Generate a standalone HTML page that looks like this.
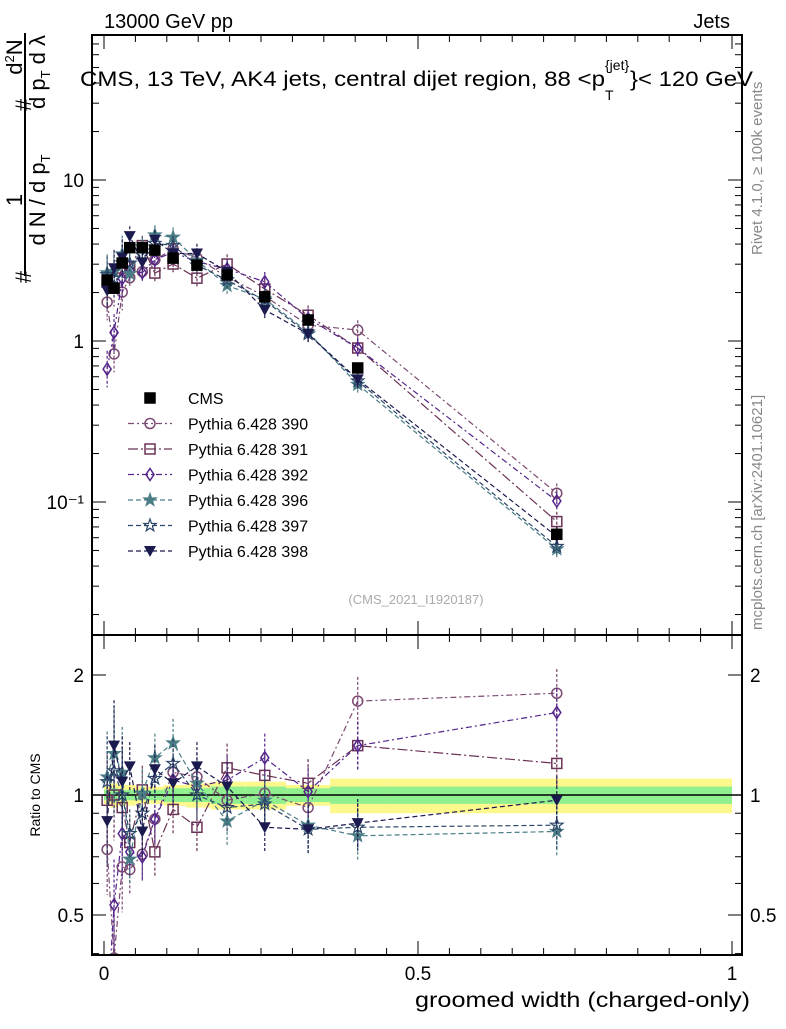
<!DOCTYPE html>
<html><head><meta charset="utf-8"><style>
body{margin:0;background:#fff;}
svg text{font-family:"Liberation Sans",sans-serif;}
</style></head><body>
<svg id="chart" width="786" height="1024" viewBox="0 0 786 1024" xmlns="http://www.w3.org/2000/svg">
<g id="bands"></g>
<g id="marks"></g>
<g id="axes"></g>
<text x="104" y="28" font-size="20">13000 GeV pp</text>
<text x="730" y="28" font-size="20" text-anchor="end">Jets</text>
<g>
<text x="80" y="86" font-size="21" textLength="525" lengthAdjust="spacingAndGlyphs">CMS, 13 TeV, AK4 jets, central dijet region, 88 &lt;p</text>
<text x="605" y="70" font-size="14">{jet}</text>
<text x="605" y="100" font-size="14">T</text>
<text x="630" y="86" font-size="21" textLength="123" lengthAdjust="spacingAndGlyphs">}&lt; 120 GeV</text>
</g>
<text x="416" y="604" font-size="13" fill="#aaa" text-anchor="middle">(CMS_2021_I1920187)</text>
<text x="0" y="0" font-size="15" fill="#888" transform="translate(762,255) rotate(-90)">Rivet 4.1.0, ≥ 100k events</text>
<text x="0" y="0" font-size="15" fill="#888" transform="translate(762,630) rotate(-90)">mcplots.cern.ch [arXiv:2401.10621]</text>
<g>
<rect x="24" y="33" width="2" height="243" fill="#000"/>
<text font-size="22" text-anchor="middle" transform="translate(22,57) rotate(-90)">d<tspan font-size="13" dy="-8">2</tspan><tspan dy="8">N</tspan></text>
<text font-size="22" text-anchor="middle" transform="translate(22,200) rotate(-90)">1</text>
<text font-size="22" text-anchor="middle" transform="translate(45,200) rotate(-90)">d N / d p<tspan font-size="13" dy="5">T</tspan></text>
<text font-size="22" text-anchor="middle" transform="translate(45,72) rotate(-90)">d p<tspan font-size="13" dy="5">T</tspan><tspan dy="-5">  d λ</tspan></text>
<text font-size="22" text-anchor="middle" transform="translate(31,105) rotate(-90)">#</text>
<text font-size="22" text-anchor="middle" transform="translate(31,277) rotate(-90)">#</text>
</g>
<text x="0" y="0" font-size="14" transform="translate(40,795) rotate(-90)" text-anchor="middle">Ratio to CMS</text>
<text x="750" y="1007" font-size="21" text-anchor="end" textLength="335" lengthAdjust="spacingAndGlyphs">groomed width (charged-only)</text>
<g id="legend"></g>
</svg>
<script>
const xs=[0.005,0.016,0.029,0.041,0.061,0.081,0.110,0.148,0.196,0.256,0.325,0.404,0.721];
const cms=[2.39,2.13,3.05,3.8,3.8,3.67,3.27,2.96,2.57,1.88,1.35,0.68,0.063];
const binEdges=[0,0.01,0.022,0.035,0.05,0.07,0.095,0.13,0.17,0.225,0.29,0.36,0.45,1.0];
const yellowHalf=[0.05,0.07,0.06,0.06,0.05,0.05,0.06,0.07,0.08,0.08,0.06,0.10,0.10];
const greenHalf=[0.03,0.04,0.03,0.03,0.03,0.03,0.04,0.04,0.05,0.05,0.04,0.05,0.05];
const r390=[0.73,0.39,0.66,0.65,0.71,0.87,1.14,1.11,0.97,1.01,0.93,1.72,1.80];
const r391=[0.97,1.0,0.93,0.76,1.03,0.72,0.92,0.83,1.17,1.12,1.07,1.33,1.20];
const r392=[0.28,0.53,0.80,0.72,0.70,0.87,1.09,1.05,1.09,1.24,1.02,1.33,1.61];
const r396=[1.11,1.27,1.14,0.69,1.01,1.24,1.35,1.07,0.86,0.97,0.84,0.79,0.81];
const r397=[1.08,1.15,1.0,0.8,0.9,1.1,1.2,1.0,0.93,0.95,0.82,0.83,0.84];
const r398=[0.86,1.33,1.08,1.18,0.81,1.16,1.07,1.18,1.05,0.83,0.82,0.85,0.97];
const series=[
 {name:'Pythia 6.428 390',r:r390,c:'#7b4a72',m:'circle',d:'6,3,2,3'},
 {name:'Pythia 6.428 391',r:r391,c:'#6a3356',m:'square',d:'10,3,2,3'},
 {name:'Pythia 6.428 392',r:r392,c:'#54248a',m:'diamond',d:'6,3,2,3'},
 {name:'Pythia 6.428 396',r:r396,c:'#4b7d86',m:'star',d:'5,3'},
 {name:'Pythia 6.428 397',r:r397,c:'#2b4668',m:'ostar',d:'5,3'},
 {name:'Pythia 6.428 398',r:r398,c:'#1b1a4e',m:'tri',d:'5,3'}];
const NS='http://www.w3.org/2000/svg';
const L=92,R=742,T=35,MB=635,RB=955;
const X=v=>104+v*628;
const Ym=v=>341-161*Math.log10(v);
const Yr=v=>795-398.6*Math.log10(v);
function mk(tag,at,parent){const e=document.createElementNS(NS,tag);for(const k in at)e.setAttribute(k,at[k]);parent.appendChild(e);return e;}
const bands=document.getElementById('bands'),marks=document.getElementById('marks'),axes=document.getElementById('axes'),leg=document.getElementById('legend');
const defs=mk('defs',{},marks);
const cp1=mk('clipPath',{id:'cm'},defs);mk('rect',{x:L,y:T,width:R-L,height:MB-T},cp1);
const cp2=mk('clipPath',{id:'cr'},defs);mk('rect',{x:L,y:MB,width:R-L,height:RB-MB},cp2);
for(let i=0;i<binEdges.length-1;i++){
 const x1=X(binEdges[i]),x2=X(binEdges[i+1]);
 const y=mk('rect',{x:x1,y:Yr(1+yellowHalf[i]),width:x2-x1,height:Yr(1-yellowHalf[i])-Yr(1+yellowHalf[i]),fill:'#fdf88c'},bands);
 
 
 const g=mk('rect',{x:x1,y:Yr(1+greenHalf[i]),width:x2-x1,height:Yr(1-greenHalf[i])-Yr(1+greenHalf[i]),fill:'#90f090'},bands);
 
 
}
mk('line',{x1:L,x2:R,y1:Yr(1),y2:Yr(1),stroke:'#000','stroke-width':1.5},bands);
function marker(type,x,y,c,parent){
 let e;const s=5;
 if(type==='circle')e=mk('circle',{cx:x,cy:y,r:s,fill:'none',stroke:c,'stroke-width':1.5},parent);
 else if(type==='square'||type==='cms')e=mk('rect',{x:x-s,y:y-s,width:2*s,height:2*s,fill:type==='cms'?'#000':'none',stroke:c,'stroke-width':1.5},parent);
 else if(type==='diamond')e=mk('polygon',{points:`${x},${y-6} ${x+4},${y} ${x},${y+6} ${x-4},${y}`,fill:'none',stroke:c,'stroke-width':1.5},parent);
 else if(type==='tri')e=mk('polygon',{points:`${x-6},${y-5} ${x+6},${y-5} ${x},${y+6}`,fill:c},parent);
 else{let p=[];for(let k=0;k<10;k++){const a=-Math.PI/2+k*Math.PI/5,rr=k%2?2.6:6.5;p.push((x+rr*Math.cos(a)).toFixed(1)+','+(y+rr*Math.sin(a)).toFixed(1));}
  e=mk('polygon',{points:p.join(' '),fill:type==='star'?c:'none',stroke:c,'stroke-width':1.2},parent);}
 return e;
}
series.forEach((s,si)=>{
 const gm=mk('g',{'clip-path':'url(#cm)'},marks);
 
 
 const gr=mk('g',{'clip-path':'url(#cr)'},marks);
 
 
 const pm=xs.map((x,i)=>X(x)+','+Ym(cms[i]*s.r[i])).join(' ');
 const pr=xs.map((x,i)=>X(x)+','+Yr(s.r[i])).join(' ');
 mk('polyline',{points:pm,fill:'none',stroke:s.c,'stroke-width':1.2,'stroke-dasharray':s.d},gm);
 mk('polyline',{points:pr,fill:'none',stroke:s.c,'stroke-width':1.2,'stroke-dasharray':s.d},gr);
 xs.forEach((x,i)=>{
  const v=cms[i]*s.r[i],e=0.15+(i<3?0.15:0);
  mk('line',{x1:X(x),x2:X(x),y1:Ym(v*(1+e)),y2:Ym(v/(1+e)),stroke:s.c,'stroke-width':1.2,'stroke-dasharray':'3,2'},gm);
  mk('line',{x1:X(x),x2:X(x),y1:Yr(s.r[i]*(1+e)),y2:Yr(s.r[i]/(1+e)),stroke:s.c,'stroke-width':1.2,'stroke-dasharray':'3,2'},gr);
  const a=marker(s.m,X(x),Ym(v),s.c,gm);
  
  
  const b=marker(s.m,X(x),Yr(s.r[i]),s.c,gr);
  
  
 });
});
const gc=mk('g',{'clip-path':'url(#cm)'},marks);


xs.forEach((x,i)=>{const e=marker('cms',X(x),Ym(cms[i]),'#000',gc);
 
 });
mk('rect',{x:L,y:T,width:R-L,height:MB-T,fill:'none',stroke:'#000','stroke-width':2},axes);
mk('rect',{x:L,y:MB,width:R-L,height:RB-MB,fill:'none',stroke:'#000','stroke-width':2},axes);
for(let k=0;k<=20;k++){const v=k*0.05,x=X(v),len=k%10===0?14:7;
 [[MB,-1],[T,1],[RB,-1],[MB,1]].forEach(([y,d])=>mk('line',{x1:x,x2:x,y1:y,y2:y+d*len,stroke:'#000','stroke-width':1},axes));}
const xTicks=['0','0.5','1'];
xTicks.forEach((t,k)=>{const tt=mk('text',{x:X(k*0.5),y:980,'font-size':19,'text-anchor':'middle'},axes);tt.textContent=t;
 
 });
for(let d=-2;d<=1;d++)for(let m=1;m<10;m++){const v=m*Math.pow(10,d),y=Ym(v);if(y<T||y>MB)continue;const len=m===1?14:7;
 mk('line',{x1:L,x2:L+len,y1:y,y2:y,stroke:'#000'},axes);mk('line',{x1:R,x2:R-len,y1:y,y2:y,stroke:'#000'},axes);}
const mainTicks=['10','1','10⁻¹'],mainTickVals=[10,1,0.1];
mainTicks.forEach((t,k)=>{const tt=mk('text',{x:84,y:Ym(mainTickVals[k])+7,'font-size':19,'text-anchor':'end'},axes);tt.textContent=t;
 
 });
[0.4,0.5,0.6,0.7,0.8,0.9,1,2].forEach(v=>{const y=Yr(v);if(y>RB)return;const len=(v===1||v===2||v===0.5)?14:7;
 mk('line',{x1:L,x2:L+len,y1:y,y2:y,stroke:'#000'},axes);mk('line',{x1:R,x2:R-len,y1:y,y2:y,stroke:'#000'},axes);});
const ratioTicks=['2','1','0.5'],ratioTickVals=[2,1,0.5];
ratioTicks.forEach((t,k)=>{[[84,'end'],[750,'start']].forEach(([x,a])=>{const tt=mk('text',{x:x,y:Yr(ratioTickVals[k])+7,'font-size':19,'text-anchor':a},axes);tt.textContent=t;
 
 });});
const items=[{name:'CMS',m:'cms',c:'#000'}].concat(series);
items.forEach((s,i)=>{const y=398+i*25.5;
 const g=mk('g',{},leg);
 
 
 if(s.d)mk('line',{x1:128,x2:172,y1:y,y2:y,stroke:s.c,'stroke-width':1.2,'stroke-dasharray':s.d},g);
 marker(s.m,150,y,s.c,g);
 const t=mk('text',{x:188,y:y+6,'font-size':16},g);t.textContent=s.name;});
</script>
</body></html>
